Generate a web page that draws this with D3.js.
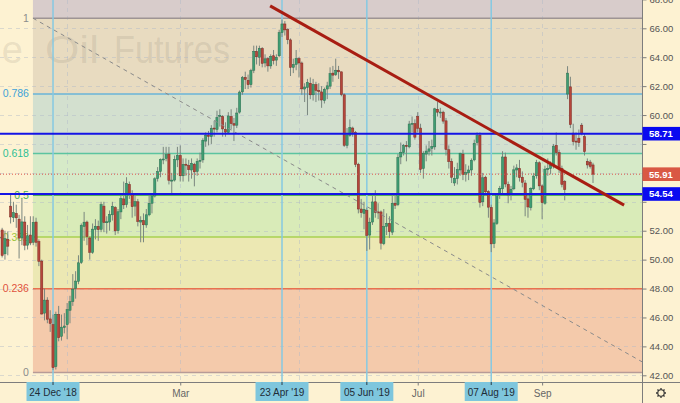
<!DOCTYPE html>
<html><head><meta charset="utf-8">
<script src="https://cdn.jsdelivr.net/npm/d3@7"></script>
<style>html,body{margin:0;padding:0;background:#fdf2d2;}svg{display:block;}</style>
</head><body>
<svg id="c" width="680" height="403"></svg>
<script>
// ---------- DATA ----------
const firstDate = "2018-11-27", lastDate = "2019-09-27";
const holidays = ["2018-12-25","2019-01-01","2019-01-21","2019-02-18","2019-04-19","2019-05-27","2019-07-04","2019-09-02"];

const opens = [
 51.50,52.05,50.40,51.40,
 53.70,52.90,53.20,52.80,51.50,52.60,51.00,51.70,51.20,52.60,51.25,49.90,46.30,47.20,45.90,45.50,42.60,46.20,44.70,45.30,
 45.50,46.50,47.10,48.00,48.50,49.80,52.30,52.60,51.50,50.50,52.10,52.30,52.10,53.70,52.60,52.60,53.10,53.60,52.00,53.30,54.20,
 53.80,55.20,54.50,53.70,54.00,52.60,52.70,52.40,53.10,53.90,54.40,55.60,56.10,56.90,57.00,57.30,55.50,55.50,56.90,
 57.20,55.80,56.60,56.50,56.20,56.60,56.10,56.80,56.90,58.20,58.60,58.50,59.10,59.00,59.90,59.90,59.00,58.80,59.90,59.40,59.30,
 60.20,61.60,62.60,62.40,62.10,63.10,64.40,64.00,64.60,63.60,63.90,63.40,64.10,63.80,64.10,65.70,66.30,65.90,65.20,63.30,63.50,
 63.90,63.60,61.80,61.90,62.20,61.40,62.10,61.70,61.60,61.00,61.80,62.00,62.90,62.80,63.10,62.99,61.40,57.90,58.60,59.10,58.80,56.60,
 53.50,53.20,53.40,51.70,52.60,54.00,53.30,53.30,51.10,52.30,52.50,51.90,53.90,53.80,57.10,57.40,57.90,57.80,59.40,59.40,
 59.90,59.10,56.30,57.30,57.50,57.70,57.80,60.40,60.20,60.20,59.60,57.60,56.80,55.30,55.60,56.20,57.30,55.90,56.00,56.20,56.90,58.10,
 58.60,54.00,55.70,54.70,53.60,51.10,52.50,54.50,54.90,57.10,55.20,54.50,54.90,56.20,56.30,55.70,55.30,54.20,53.60,54.90,55.80,56.70,
 55.10,53.90,56.30,56.30,56.50,57.90,57.40,56.30,55.40,61.45,61.95,58.75,58.20,58.40,59.30,58.50,56.80,56.75,56.55
];
const highs = [
 52.30,52.20,52.00,51.95,
 54.55,54.00,53.80,53.10,54.22,53.00,52.40,53.00,53.00,52.90,51.40,50.00,48.00,47.40,46.50,46.20,46.40,46.80,46.20,46.30,
 47.00,47.50,49.00,49.20,50.30,52.50,53.30,52.70,51.60,52.50,52.80,52.70,54.00,54.00,53.00,53.40,54.00,53.70,53.50,54.40,55.40,
 55.70,55.40,54.80,54.50,54.20,53.00,53.20,53.50,54.50,54.60,55.70,56.40,57.00,57.80,57.80,57.80,56.00,57.20,57.80,
 57.90,57.00,57.00,56.90,57.00,56.70,57.00,57.40,58.40,58.80,58.90,59.30,59.60,60.30,60.40,60.00,59.50,60.20,60.40,59.80,60.50,
 61.70,62.70,63.00,62.80,63.20,64.80,64.80,64.80,64.70,64.20,64.00,64.20,64.50,64.20,65.90,66.60,66.50,66.00,65.30,63.90,64.50,
 64.00,63.70,62.20,62.50,62.60,62.50,62.30,62.20,62.00,61.90,62.30,63.30,63.40,63.90,63.40,63.00,61.50,59.10,59.70,59.20,58.90,56.70,
 54.20,54.00,53.60,52.90,54.40,54.80,53.90,53.40,53.50,53.20,53.00,54.50,54.50,57.30,58.10,58.00,58.20,59.60,59.90,59.70,
 60.20,59.40,57.50,57.90,58.20,58.30,60.50,60.90,60.50,60.30,59.80,57.90,57.00,56.40,56.70,57.40,57.60,56.60,56.50,57.00,58.30,58.80,
 58.80,56.00,55.80,54.80,53.80,52.80,54.60,55.10,57.50,57.40,55.40,55.10,56.50,56.60,56.90,56.10,55.50,54.50,55.00,56.00,56.90,56.80,
 55.20,56.50,57.00,56.80,58.00,58.80,57.60,56.50,55.50,63.38,62.65,59.40,58.80,59.00,59.45,58.70,57.00,56.90,56.70
];
const lows = [
 50.80,50.15,50.00,50.30,
 52.50,52.60,52.20,50.08,51.00,50.65,50.70,51.00,51.00,50.90,49.55,46.20,45.80,45.60,45.00,42.36,42.40,44.35,44.40,44.90,
 44.50,45.60,46.80,47.30,48.30,49.70,51.30,51.00,50.00,50.40,51.40,51.30,51.90,51.90,51.80,52.00,52.70,51.70,51.80,52.80,53.50,
 53.60,54.20,52.90,53.00,52.30,51.20,51.20,52.20,53.00,53.20,54.30,55.40,55.70,56.60,56.80,55.20,54.50,55.40,56.40,
 55.40,55.40,55.80,55.40,55.60,55.07,55.80,56.30,56.70,57.80,57.90,58.00,58.50,58.80,59.20,58.50,58.50,58.70,59.00,58.20,59.10,
 60.10,61.40,61.80,61.80,61.90,62.90,63.50,63.40,63.30,63.30,63.00,63.20,63.50,63.40,64.00,65.40,65.50,64.90,62.70,62.90,63.10,
 62.60,61.40,60.90,60.00,61.10,61.00,60.90,61.00,60.50,60.80,61.10,61.80,62.30,62.70,62.50,61.30,57.80,57.70,58.50,58.50,56.40,53.20,
 52.90,52.10,50.60,50.70,52.40,52.90,52.80,50.70,51.00,51.70,51.50,51.70,53.50,53.70,56.60,57.20,56.80,57.70,58.80,58.30,
 58.80,56.00,55.60,56.80,57.20,57.20,57.60,59.90,59.80,59.40,57.20,56.30,55.30,55.10,55.20,55.80,55.50,55.40,55.50,55.80,56.80,57.90,
 53.60,53.70,54.40,52.90,50.52,50.80,52.40,54.20,54.50,55.00,53.90,54.10,54.80,55.70,55.40,55.00,53.00,52.90,53.40,54.80,55.60,54.80,
 52.80,53.80,55.80,55.90,56.30,57.20,56.00,55.00,54.10,61.10,59.10,57.90,57.60,57.80,58.60,57.20,56.30,56.30,55.30
];
const closes = [
 51.56,50.29,51.45,50.93,
 52.95,53.25,52.89,51.49,52.61,51.00,51.65,51.15,52.58,51.20,49.88,46.24,47.20,45.88,45.59,42.53,46.22,44.61,45.33,45.41,
 46.54,47.09,47.96,48.52,49.78,52.36,52.59,51.59,50.51,52.11,52.31,52.07,53.80,52.57,52.62,53.13,53.69,51.99,53.31,54.23,53.79,
 55.26,54.56,53.66,54.01,52.64,52.72,52.41,53.10,53.90,54.41,55.59,56.09,56.92,56.96,57.26,55.48,55.50,56.94,57.22,
 55.80,56.59,56.56,56.22,56.66,56.07,56.79,56.87,58.26,58.61,58.52,59.09,59.03,59.83,59.98,59.04,58.82,59.94,59.41,59.30,60.14,
 61.59,62.58,62.46,62.10,63.08,64.40,64.03,64.61,63.58,63.89,63.40,64.05,63.76,64.00,65.70,66.30,65.89,65.21,63.30,63.50,63.91,
 63.60,61.81,61.94,62.25,61.40,62.12,61.70,61.66,61.04,61.78,62.02,62.87,62.76,63.10,62.99,61.42,57.91,58.63,59.14,58.81,56.59,53.50,
 53.25,53.48,51.68,52.59,53.99,53.26,53.27,51.14,52.28,52.51,51.93,53.90,53.76,57.07,57.43,57.90,57.83,59.38,59.43,58.47,
 59.09,56.25,57.34,57.51,57.66,57.83,60.43,60.20,60.21,59.58,57.62,56.78,55.70,55.63,56.22,57.35,55.88,56.02,56.20,56.87,58.05,58.58,
 53.95,55.66,54.69,53.63,51.09,52.54,54.50,54.93,57.10,55.23,54.47,54.87,56.21,56.34,55.68,55.35,54.17,53.64,54.93,55.78,56.71,55.10,
 53.94,56.26,56.30,56.52,57.85,57.40,56.35,55.20,54.85,62.90,59.34,58.16,58.13,58.09,58.70,57.47,56.55,56.45,55.91
];

const priceTicks = [42,44,46,48,50,52,54,56,58,60,62,64,66,68];
const monthTickDates = ["2019-01-02","2019-03-01","2019-05-01","2019-07-01","2019-09-03"];
const monthTickLabels = ["Jan","Mar","May","Jul","Sep"];
const shownMonthLabels = ["Mar","Jul","Sep"];
const markedDates = ["2018-12-24","2019-04-23","2019-06-05","2019-08-07"];
const markedLabels = ["24 Dec '18","23 Apr '19","05 Jun '19","07 Aug '19"];

const fibLow = 42.20, fibHigh = 66.70;
const fibLevels = [0, 0.236, 0.382, 0.5, 0.618, 0.786, 1];
const fibLabels = ["0","0.236","0.382","0.5","0.618","0.786","1"];
const fibAnchorBars = [11.9, 234];          // bar positions of the two fib anchors
const horizontalLevels = [58.71, 54.54];
const lastPrice = 55.91;
const trendBars = [95.8, 221];
const trendPrices = [67.55, 53.77];
const watermarkWords = ["Crude", "Oil", "Futures"];

// ---------- STYLE ----------
const W = 680, H = 403, plotR = 642, plotB = 382;
const BG = "#fdf2d2";
const fibZoneColors = ["#f4caab","#ece8b3","#d9ebb8","#d6eac8","#d3e0cf","#e8dbc0"]; // 0-0.236 ... 0.786-1
const fibTopZone = "#d8cccb";
const fibLineColors = ["#b79b97","#e8714f","#a8d050","#55b35a","#5cc4a0","#6ab4d8","#9e9494"];
const fibLabelColors = ["#8c8c8c","#e0523e","#9cc43a","#4caf50","#2dbf94","#3ea3d8","#8c8c8c"];
const upFill = "#3f9d72", upStroke = "#2b6e50", dnFill = "#b5463b", dnStroke = "#7d2a22", wickCol = "#7a867f";
const FONT = "'Liberation Sans', Arial, sans-serif";

// ---------- BUILD ----------
const dates = [];
for (let d = new Date(firstDate + "T00:00:00Z"); d <= new Date(lastDate + "T00:00:00Z"); d.setUTCDate(d.getUTCDate() + 1)) {
  const dow = d.getUTCDay(), s = d.toISOString().slice(0, 10);
  if (dow > 0 && dow < 6 && !holidays.includes(s)) dates.push(s);
}
const bars = dates.map((date, i) => ({ i, date, o: opens[i], h: highs[i], l: lows[i], c: closes[i] }));
const idx = s => dates.indexOf(s);

const x = d3.scaleLinear().domain([0, bars.length - 1]).range([-0.7, 593]);
const y = d3.scaleLinear().domain([42, 66]).range([375.3, 28.3]);

const svg = d3.select("#c");
svg.append("defs").append("clipPath").attr("id", "clip")
  .append("rect").attr("x", 0).attr("y", 0).attr("width", plotR).attr("height", plotB);
svg.append("rect").attr("width", W).attr("height", H).attr("fill", BG);
const g = svg.append("g").attr("clip-path", "url(#clip)");

// fib zones
const fibPrice = lv => fibLow + lv * (fibHigh - fibLow);
const fx0 = x(fibAnchorBars[0]);
g.append("rect").attr("x", fx0).attr("y", 0).attr("width", plotR - fx0)
  .attr("height", y(fibPrice(1))).attr("fill", fibTopZone);
g.selectAll(".fz").data(fibLevels.slice(0, -1)).join("rect")
  .attr("x", fx0).attr("width", plotR - fx0)
  .attr("y", (d, i) => y(fibPrice(fibLevels[i + 1])))
  .attr("height", (d, i) => y(fibPrice(d)) - y(fibPrice(fibLevels[i + 1])))
  .attr("fill", (d, i) => fibZoneColors[i]);

// watermark (symbol description, scrolled partly off the left edge)
const wm = g.append("g").attr("font-family", FONT).attr("font-size", 38).attr("fill", "rgba(110,100,90,0.14)");
wm.append("text").attr("x", 23).attr("y", 63).attr("text-anchor", "end").text(watermarkWords[0]);
wm.append("text").attr("x", 45).attr("y", 63).attr("textLength", 54).attr("lengthAdjust", "spacingAndGlyphs").text(watermarkWords[1]);
wm.append("text").attr("x", 114).attr("y", 63).attr("textLength", 116).attr("lengthAdjust", "spacingAndGlyphs").text(watermarkWords[2]);

// grid
g.selectAll(".hg").data(priceTicks).join("line")
  .attr("x1", 0).attr("x2", plotR).attr("y1", d => Math.round(y(d)) + 0.5).attr("y2", d => Math.round(y(d)) + 0.5)
  .attr("stroke", "rgba(175,185,200,0.45)").attr("stroke-dasharray", "4,4");
g.selectAll(".vg").data(monthTickDates).join("line")
  .attr("x1", d => Math.round(x(idx(d))) + 0.5).attr("x2", d => Math.round(x(idx(d))) + 0.5)
  .attr("y1", 0).attr("y2", plotB)
  .attr("stroke", "rgba(175,185,200,0.45)").attr("stroke-dasharray", "4,4");

// fib lines
g.selectAll(".fl").data(fibLevels).join("line")
  .attr("x1", fx0).attr("x2", plotR)
  .attr("y1", d => y(fibPrice(d))).attr("y2", d => y(fibPrice(d)))
  .attr("stroke", (d, i) => fibLineColors[i]).attr("stroke-width", 1.5);

// fib labels (below candles and drawings, as in the reference)
g.selectAll(".fbl").data(fibLevels).join("text")
  .attr("x", fx0 - 4).attr("y", d => y(fibPrice(d)) + 3.5).attr("text-anchor", "end")
  .attr("font-family", FONT).attr("font-size", 10.5)
  .attr("fill", (d, i) => fibLabelColors[i]).text((d, i) => fibLabels[i]);

// marked verticals
g.selectAll(".mv").data(markedDates).join("line")
  .attr("x1", d => x(idx(d))).attr("x2", d => x(idx(d)))
  .attr("y1", 0).attr("y2", plotB)
  .attr("stroke", "#86c9e2").attr("stroke-width", 1.5);

// candles
const cw = 2.2;
const cg = g.append("g");
cg.selectAll(".wk").data(bars).join("line")
  .attr("x1", d => x(d.i)).attr("x2", d => x(d.i))
  .attr("y1", d => y(d.h)).attr("y2", d => y(d.l))
  .attr("stroke", wickCol).attr("stroke-width", 1);
cg.selectAll(".bd").data(bars).join("rect")
  .attr("x", d => x(d.i) - cw / 2).attr("width", cw)
  .attr("y", d => y(Math.max(d.o, d.c)))
  .attr("height", d => Math.max(1, Math.abs(y(d.o) - y(d.c))))
  .attr("fill", d => d.c >= d.o ? upFill : dnFill)
  .attr("stroke", d => d.c >= d.o ? upStroke : dnStroke).attr("stroke-width", 0.5);

// fib dashed trend line
g.append("line")
  .attr("x1", x(fibAnchorBars[0])).attr("y1", y(fibHigh))
  .attr("x2", x(fibAnchorBars[1])).attr("y2", y(fibLow))
  .attr("stroke", "#8a8a8a").attr("stroke-width", 1).attr("stroke-dasharray", "4,4");

// last price dotted line
g.append("line").attr("x1", 0).attr("x2", plotR).attr("y1", y(lastPrice)).attr("y2", y(lastPrice))
  .attr("stroke", "#d9534a").attr("stroke-width", 1).attr("stroke-dasharray", "1,2");

// horizontal blue levels
g.selectAll(".hl").data(horizontalLevels).join("line")
  .attr("x1", 0).attr("x2", plotR).attr("y1", d => y(d)).attr("y2", d => y(d))
  .attr("stroke", "#1414e6").attr("stroke-width", 2);

// red trend line
g.append("line")
  .attr("x1", x(trendBars[0])).attr("y1", y(trendPrices[0]))
  .attr("x2", x(trendBars[1])).attr("y2", y(trendPrices[1]))
  .attr("stroke", "#a81d12").attr("stroke-width", 3);

// axes lines
svg.append("line").attr("x1", plotR + 0.5).attr("x2", plotR + 0.5).attr("y1", 0).attr("y2", H)
  .attr("stroke", "#7d7d7d");
svg.append("line").attr("x1", 0).attr("x2", W).attr("y1", plotB + 0.5).attr("y2", plotB + 0.5)
  .attr("stroke", "#7d7d7d");

// right price axis (labels hidden where a price box sits on top, as in the reference)
const boxPrices = [horizontalLevels[0], lastPrice, horizontalLevels[1]];
const ax = svg.append("g").attr("transform", `translate(${plotR + 0.5},0)`)
  .call(d3.axisRight(y).tickValues(priceTicks).tickSize(4).tickPadding(3).tickFormat(d3.format(".2f")));
ax.select(".domain").remove();
ax.selectAll("line").attr("stroke", "#7d7d7d");
ax.selectAll("text").attr("font-family", FONT).attr("font-size", 9.5).attr("fill", "#555")
  .style("display", d => boxPrices.some(p => Math.abs(y(p) - y(d)) < 11) ? "none" : null);

// price boxes
const boxes = [
  { p: horizontalLevels[0], fill: "#0a0af0" },
  { p: lastPrice, fill: "#d95844" },
  { p: horizontalLevels[1], fill: "#0a0af0" }
];
const pb = svg.selectAll(".pb").data(boxes).join("g").attr("transform", d => `translate(${plotR + 0.5},${y(d.p)})`);
pb.append("rect").attr("x", 0).attr("y", -6.8).attr("width", W - plotR).attr("height", 13.6).attr("fill", d => d.fill);
pb.append("text").attr("x", 6.5).attr("y", 3.5).attr("font-family", FONT).attr("font-size", 9.5)
  .attr("font-weight", "bold").attr("fill", "#fff").text(d => d.p.toFixed(2));

// bottom axis
const bx = svg.append("g").attr("transform", `translate(0,${plotB + 0.5})`)
  .call(d3.axisBottom(x).tickValues(monthTickDates.map(idx)).tickSize(3).tickPadding(4)
    .tickFormat((d, i) => shownMonthLabels.includes(monthTickLabels[i]) ? monthTickLabels[i] : ""));
bx.select(".domain").remove();
bx.selectAll("line").attr("stroke", "#7d7d7d");
bx.selectAll("text").attr("font-family", FONT).attr("font-size", 10).attr("fill", "#666");

const mb = svg.selectAll(".mb").data(markedDates).join("g")
  .attr("transform", d => `translate(${x(idx(d))},${plotB})`);
mb.append("rect").attr("x", -26.5).attr("y", 0).attr("width", 53).attr("height", 19).attr("fill", "#7ec6dd");
mb.append("line").attr("x1", 0).attr("x2", 0).attr("y1", 0).attr("y2", 3).attr("stroke", "#2a3a44");
mb.append("text").attr("x", 0).attr("y", 13.5).attr("text-anchor", "middle")
  .attr("font-family", FONT).attr("font-size", 10).attr("fill", "#1e2c36")
  .text((d, i) => markedLabels[i]);

// settings gear
const gear = svg.append("g").attr("transform", "translate(661,393)");
gear.append("circle").attr("r", 3.2).attr("fill", "none").attr("stroke", "#333").attr("stroke-width", 1.1);
gear.selectAll("line").data(d3.range(8)).join("line")
  .attr("x1", d => 3.2 * Math.cos(d * Math.PI / 4)).attr("y1", d => 3.2 * Math.sin(d * Math.PI / 4))
  .attr("x2", d => 5 * Math.cos(d * Math.PI / 4)).attr("y2", d => 5 * Math.sin(d * Math.PI / 4))
  .attr("stroke", "#333").attr("stroke-width", 1.3);
</script>
</body></html>
